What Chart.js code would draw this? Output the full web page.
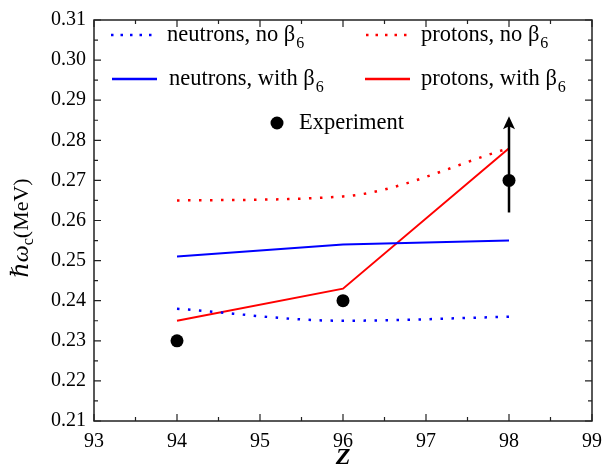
<!DOCTYPE html>
<html lang="en">
<head>
  <meta charset="UTF-8" />
  <title>hbar omega_c vs Z</title>
  <script src="https://cdn.jsdelivr.net/npm/chart.js"></script>
  <style>
    html, body { margin: 0; padding: 0; background: #fff; overflow: hidden; }
    .chart-container { width: 611px; height: 468px; }
  </style>
</head>
<body>
  <div class="chart-container">
    <canvas id="crankChart" width="611" height="468"></canvas>
  </div>

  <script>
    // values
    const zValues = [94, 96, 98];
    const neutronsNoB6 = [0.238, 0.235, 0.236];
    const protonsNoB6 = [0.265, 0.266, 0.278];
    const neutronsWithB6 = [0.251, 0.254, 0.255];
    const protonsWithB6 = [0.235, 0.243, 0.278];
    const experiment = [0.230, 0.240, 0.270];
    const expErrLow = [null, null, 0.262];
    const expErrHigh = [null, null, 0.286]; // drawn as an arrow (lower limit)

    const xTicks = [93, 94, 95, 96, 97, 98, 99];
    const yTicks = [0.21, 0.22, 0.23, 0.24, 0.25, 0.26, 0.27, 0.28, 0.29, 0.30, 0.31];

    const serif = '"Liberation Serif", "DejaVu Serif", serif';
    const toPoints = ys => zValues.map((z, i) => ({ x: z, y: ys[i] }));

    const lineSet = (label, ys, color, dotted) => ({
      label: label,
      data: toPoints(ys),
      showLine: true,
      borderColor: color,
      backgroundColor: color,
      borderWidth: dotted ? 2.5 : 2,
      borderDash: dotted ? [2.5, 8.5] : [],
      cubicInterpolationMode: dotted ? 'monotone' : 'default',
      tension: 0,
      pointRadius: 0,
      pointHoverRadius: 0
    });

    // frame, inward ticks, error bar, legend and axis titles
    const decorations = {
      id: 'decorations',
      afterDatasetsDraw(chart) {
        const ctx = chart.ctx;
        const a = chart.chartArea;
        const xs = chart.scales.x, ys = chart.scales.y;
        ctx.save();

        // error bar with upward arrow
        ctx.strokeStyle = '#000';
        ctx.fillStyle = '#000';
        ctx.lineWidth = 2.5;
        zValues.forEach((z, i) => {
          if (expErrLow[i] == null) return;
          const px = xs.getPixelForValue(z);
          const yLo = ys.getPixelForValue(expErrLow[i]);
          const yHi = ys.getPixelForValue(expErrHigh[i]);
          ctx.beginPath();
          ctx.moveTo(px, yLo);
          ctx.lineTo(px, yHi + 8);
          ctx.stroke();
          ctx.beginPath();
          ctx.moveTo(px, yHi);
          ctx.lineTo(px - 6, yHi + 13);
          ctx.lineTo(px, yHi + 10);
          ctx.lineTo(px + 6, yHi + 13);
          ctx.closePath();
          ctx.fill();
        });

        // box
        ctx.lineWidth = 1.5;
        ctx.strokeStyle = '#222';
        ctx.strokeRect(a.left, a.top, a.right - a.left, a.bottom - a.top);

        // inward ticks on all four sides
        ctx.lineWidth = 1.2;
        ctx.beginPath();
        for (let v = 93; v <= 99.001; v += 0.5) {
          const px = xs.getPixelForValue(v);
          const len = Math.abs(v - Math.round(v)) < 1e-6 ? 7 : 4;
          ctx.moveTo(px, a.bottom); ctx.lineTo(px, a.bottom - len);
          ctx.moveTo(px, a.top); ctx.lineTo(px, a.top + len);
        }
        for (let k = 0; k <= 20; k++) {
          const v = 0.21 + k * 0.005;
          const py = ys.getPixelForValue(v);
          const len = k % 2 === 0 ? 7 : 4;
          ctx.moveTo(a.left, py); ctx.lineTo(a.left + len, py);
          ctx.moveTo(a.right, py); ctx.lineTo(a.right - len, py);
        }
        ctx.stroke();

        // legend
        const drawLabel = (x, y, main, sub) => {
          ctx.font = '22.5px ' + serif;
          ctx.fillStyle = '#000';
          ctx.textBaseline = 'middle';
          ctx.textAlign = 'left';
          ctx.fillText(main, x, y);
          if (sub) {
            const w = ctx.measureText(main).width;
            ctx.font = '16px ' + serif;
            ctx.fillText(sub, x + w + 1, y + 9);
          }
        };
        const sample = (x0, x1, y, color, dotted) => {
          ctx.strokeStyle = color;
          ctx.lineWidth = 2.5;
          ctx.setLineDash(dotted ? [2.5, 7] : []);
          ctx.beginPath();
          ctx.moveTo(x0, y); ctx.lineTo(x1, y);
          ctx.stroke();
          ctx.setLineDash([]);
        };
        sample(111, 157, 35, 'blue', true);
        drawLabel(167, 35, 'neutrons, no \u03B2', '6');
        sample(366, 413, 35, 'red', true);
        drawLabel(421, 35, 'protons, no \u03B2', '6');
        sample(112, 157, 79, 'blue', false);
        drawLabel(169, 79, 'neutrons, with \u03B2', '6');
        sample(365, 410, 79, 'red', false);
        drawLabel(421, 79, 'protons, with \u03B2', '6');
        ctx.fillStyle = '#000';
        ctx.beginPath();
        ctx.arc(277, 123, 6.5, 0, Math.PI * 2);
        ctx.fill();
        drawLabel(299, 123, 'Experiment', null);

        // x title
        ctx.font = 'italic bold 24px ' + serif;
        ctx.textAlign = 'center';
        ctx.textBaseline = 'middle';
        ctx.fillText('Z', (a.left + a.right) / 2, 458);

        // y title: hbar omega_c (MeV)
        ctx.translate(22, 228);
        ctx.rotate(-Math.PI / 2);
        ctx.textBaseline = 'middle';
        ctx.textAlign = 'left';
        const parts = [
          { t: '\u210F\u03C9', f: 'italic 24px ' + serif, dy: 0 },
          { t: 'c', f: '16px ' + serif, dy: 7 },
          { t: '(MeV)', f: '22px ' + serif, dy: 0 }
        ];
        let total = 0;
        parts.forEach(p => { ctx.font = p.f; total += ctx.measureText(p.t).width; });
        let cx = -total / 2;
        parts.forEach(p => {
          ctx.font = p.f;
          ctx.fillText(p.t, cx, p.dy);
          cx += ctx.measureText(p.t).width;
        });
        ctx.restore();
      }
    };

    const ctx = document.getElementById('crankChart').getContext('2d');
    new Chart(ctx, {
      type: 'scatter',
      data: {
        datasets: [
          lineSet('neutrons, no \u03B26', neutronsNoB6, 'blue', true),
          lineSet('protons, no \u03B26', protonsNoB6, 'red', true),
          lineSet('neutrons, with \u03B26', neutronsWithB6, 'blue', false),
          lineSet('protons, with \u03B26', protonsWithB6, 'red', false),
          {
            label: 'Experiment',
            data: toPoints(experiment),
            showLine: false,
            pointRadius: 6.5,
            pointHoverRadius: 6.5,
            pointBackgroundColor: '#000',
            pointBorderColor: '#000',
            borderWidth: 0
          }
        ]
      },
      options: {
        responsive: false,
        animation: false,
        layout: { padding: { top: 16, right: 11, left: 0, bottom: 0 } },
        plugins: { legend: { display: false }, tooltip: { enabled: false } },
        scales: {
          x: {
            type: 'linear',
            min: 93, max: 99,
            afterBuildTicks: s => { s.ticks = xTicks.map(v => ({ value: v })); },
            afterFit: s => { s.height = 47; },
            grid: { display: false, drawTicks: false },
            border: { display: false },
            ticks: { autoSkip: false, maxRotation: 0, padding: 9, color: '#000', font: { family: serif, size: 20 } }
          },
          y: {
            type: 'linear',
            min: 0.21, max: 0.31,
            afterBuildTicks: s => { s.ticks = yTicks.map(v => ({ value: v })); },
            afterFit: s => { s.width = 94; },
            grid: { display: false, drawTicks: false },
            border: { display: false },
            ticks: {
              autoSkip: false, padding: 8, color: '#000', font: { family: serif, size: 20 },
              callback: v => v.toFixed(2)
            }
          }
        }
      },
      plugins: [decorations]
    });
  </script>
</body>
</html>
